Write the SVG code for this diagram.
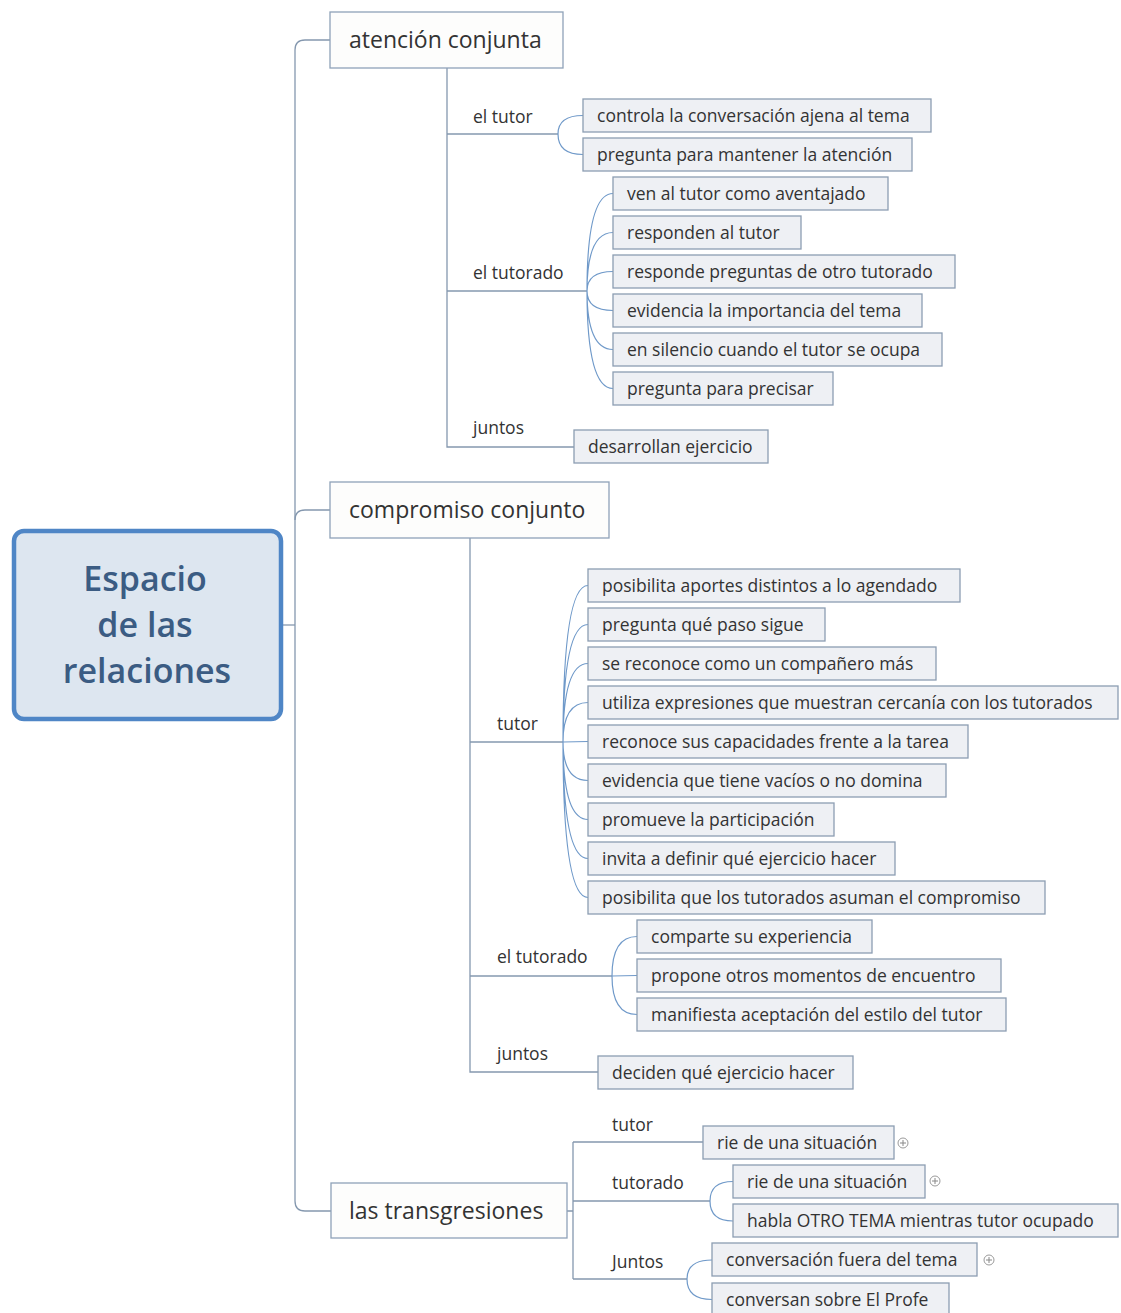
<svg xmlns="http://www.w3.org/2000/svg" width="1121" height="1313" viewBox="0 0 1121 1313">
<style>
.ln{fill:none;stroke:#8598af;stroke-width:1.3}
.fan{fill:none;stroke:#6f99c9;stroke-width:1.2}
.hdr rect{fill:#fdfdfc;stroke:#8fa2b8;stroke-width:1.3}
.leaf rect{fill:#eef0f4;stroke:#8c9db2;stroke-width:1.3}
text{font-family:"Open Sans","Liberation Sans",sans-serif;fill:#333}
.leaf text,.lbl text{font-size:17.5px}
.hdr text{font-size:23px}
.root rect{fill:#dde6f0;stroke:#4f86c6;stroke-width:4.5}
.root text{font-size:34px;font-weight:600;fill:#3b5c83;text-anchor:middle}
.plus circle{fill:#fff;stroke:#9a9a9a;stroke-width:1}
.plus path{stroke:#888;stroke-width:1}
</style>
<rect width="1121" height="1313" fill="#fff"/>
<g id="connectors">
<path class="ln" d="M330,40 H305 Q295,40 295,50 V1201 Q295,1211 305,1211 H331"/>
<path class="ln" d="M295,520 Q295,510 305,510 H330"/>
<path class="ln" d="M283,625 H295"/>
<path class="ln" d="M447,68 V447 H574"/>
<path class="ln" d="M447,134 H558"/>
<path class="ln" d="M447,291 H587"/>
<path class="fan" d="M558,134 Q558,115.5 583,115.5 M558,134 Q558,154.5 583,154.5"/>
<path class="fan" d="M587,291 Q587,193.5 613,193.5 M587,291 Q587,232.5 613,232.5 M587,291 Q587,271.5 613,271.5 M587,291 Q587,310.5 613,310.5 M587,291 Q587,349.5 613,349.5 M587,291 Q587,388.5 613,388.5"/>
<path class="ln" d="M470,538 V1072 H598"/>
<path class="ln" d="M470,742 H563"/>
<path class="ln" d="M470,976 H612"/>
<path class="fan" d="M563,742 Q563,585.5 588,585.5 M563,742 Q563,624.5 588,624.5 M563,742 Q563,663.5 588,663.5 M563,742 Q563,702.5 588,702.5 M563,742 L588,741.5 M563,742 Q563,780.5 588,780.5 M563,742 Q563,819.5 588,819.5 M563,742 Q563,858.5 588,858.5 M563,742 Q563,897.5 588,897.5"/>
<path class="fan" d="M612,976 Q612,936.5 637,936.5 M612,976 L637,975.5 M612,976 Q612,1014.5 637,1014.5"/>
<path class="ln" d="M567,1211 H573 M573,1142 V1279 M573,1142 H703 M573,1201 H710 M573,1279 H687"/>
<path class="fan" d="M710,1201 Q710,1181.5 733,1181.5 M710,1201 Q710,1221 733,1221"/>
<path class="fan" d="M687,1279 Q687,1260 712,1260 M687,1279 Q687,1299.5 712,1299.5"/>
</g>
<g id="root" class="root">
<rect x="14" y="531" width="267" height="188" rx="10"/>
<text x="145" y="591">Espacio</text>
<text x="145" y="637">de las</text>
<text x="147" y="683">relaciones</text>
</g>
<g id="atencion" class="hdr"><rect x="330" y="12" width="233" height="56"/><text x="349" y="48">atención conjunta</text></g>
<g id="compromiso" class="hdr"><rect x="330" y="482" width="279" height="56"/><text x="349" y="518">compromiso conjunto</text></g>
<g id="transgresiones" class="hdr"><rect x="331" y="1183" width="236" height="55"/><text x="349" y="1219">las transgresiones</text></g>
<g id="lbl-a-tutor" class="lbl"><text x="473" y="123">el tutor</text></g>
<g id="lbl-a-tutorado" class="lbl"><text x="473" y="279">el tutorado</text></g>
<g id="lbl-a-juntos" class="lbl"><text x="473" y="434">juntos</text></g>
<g id="lbl-c-tutor" class="lbl"><text x="497" y="730">tutor</text></g>
<g id="lbl-c-tutorado" class="lbl"><text x="497" y="963">el tutorado</text></g>
<g id="lbl-c-juntos" class="lbl"><text x="497" y="1060">juntos</text></g>
<g id="lbl-t-tutor" class="lbl"><text x="612" y="1131">tutor</text></g>
<g id="lbl-t-tutorado" class="lbl"><text x="612" y="1189">tutorado</text></g>
<g id="lbl-t-juntos" class="lbl"><text x="612" y="1268">Juntos</text></g>
<g id="a1" class="leaf"><rect x="583" y="99" width="348" height="33"/><text x="597" y="122">controla la conversación ajena al tema</text></g>
<g id="a2" class="leaf"><rect x="583" y="138" width="329" height="33"/><text x="597" y="161">pregunta para mantener la atención</text></g>
<g id="a3" class="leaf"><rect x="613" y="177" width="275" height="33"/><text x="627" y="200">ven al tutor como aventajado</text></g>
<g id="a4" class="leaf"><rect x="613" y="216" width="188" height="33"/><text x="627" y="239">responden al tutor</text></g>
<g id="a5" class="leaf"><rect x="613" y="255" width="342" height="33"/><text x="627" y="278">responde preguntas de otro tutorado</text></g>
<g id="a6" class="leaf"><rect x="613" y="294" width="309" height="33"/><text x="627" y="317">evidencia la importancia del tema</text></g>
<g id="a7" class="leaf"><rect x="613" y="333" width="329" height="33"/><text x="627" y="356">en silencio cuando el tutor se ocupa</text></g>
<g id="a8" class="leaf"><rect x="613" y="372" width="220" height="33"/><text x="627" y="395">pregunta para precisar</text></g>
<g id="a9" class="leaf"><rect x="574" y="430" width="194" height="33"/><text x="588" y="453">desarrollan ejercicio</text></g>
<g id="c1" class="leaf"><rect x="588" y="569" width="372" height="33"/><text x="602" y="592">posibilita aportes distintos a lo agendado</text></g>
<g id="c2" class="leaf"><rect x="588" y="608" width="237" height="33"/><text x="602" y="631">pregunta qué paso sigue</text></g>
<g id="c3" class="leaf"><rect x="588" y="647" width="348" height="33"/><text x="602" y="670">se reconoce como un compañero más</text></g>
<g id="c4" class="leaf"><rect x="588" y="686" width="530" height="33"/><text x="602" y="709">utiliza expresiones que muestran cercanía con los tutorados</text></g>
<g id="c5" class="leaf"><rect x="588" y="725" width="380" height="33"/><text x="602" y="748">reconoce sus capacidades frente a la tarea</text></g>
<g id="c6" class="leaf"><rect x="588" y="764" width="358" height="33"/><text x="602" y="787">evidencia que tiene vacíos o no domina</text></g>
<g id="c7" class="leaf"><rect x="588" y="803" width="246" height="33"/><text x="602" y="826">promueve la participación</text></g>
<g id="c8" class="leaf"><rect x="588" y="842" width="307" height="33"/><text x="602" y="865">invita a definir qué ejercicio hacer</text></g>
<g id="c9" class="leaf"><rect x="588" y="881" width="457" height="33"/><text x="602" y="904">posibilita que los tutorados asuman el compromiso</text></g>
<g id="c10" class="leaf"><rect x="637" y="920" width="235" height="33"/><text x="651" y="943">comparte su experiencia</text></g>
<g id="c11" class="leaf"><rect x="637" y="959" width="364" height="33"/><text x="651" y="982">propone otros momentos de encuentro</text></g>
<g id="c12" class="leaf"><rect x="637" y="998" width="369" height="33"/><text x="651" y="1021">manifiesta aceptación del estilo del tutor</text></g>
<g id="c13" class="leaf"><rect x="598" y="1056" width="255" height="33"/><text x="612" y="1079">deciden qué ejercicio hacer</text></g>
<g id="t1" class="leaf"><rect x="703" y="1126" width="191" height="33"/><text x="717" y="1149">rie de una situación</text></g>
<g id="t2" class="leaf"><rect x="733" y="1165" width="192" height="33"/><text x="747" y="1188">rie de una situación</text></g>
<g id="t3" class="leaf"><rect x="733" y="1204" width="385" height="33"/><text x="747" y="1227">habla OTRO TEMA mientras tutor ocupado</text></g>
<g id="t4" class="leaf"><rect x="712" y="1243" width="265" height="33"/><text x="726" y="1266">conversación fuera del tema</text></g>
<g id="t5" class="leaf"><rect x="712" y="1283" width="237" height="33"/><text x="726" y="1306">conversan sobre El Profe</text></g>
<g id="plus1" class="plus"><circle cx="903" cy="1143" r="5"/><path d="M900,1143 H906 M903,1140 V1146"/></g>
<g id="plus2" class="plus"><circle cx="935" cy="1181" r="5"/><path d="M932,1181 H938 M935,1178 V1184"/></g>
<g id="plus3" class="plus"><circle cx="989" cy="1260" r="5"/><path d="M986,1260 H992 M989,1257 V1263"/></g>
</svg>
